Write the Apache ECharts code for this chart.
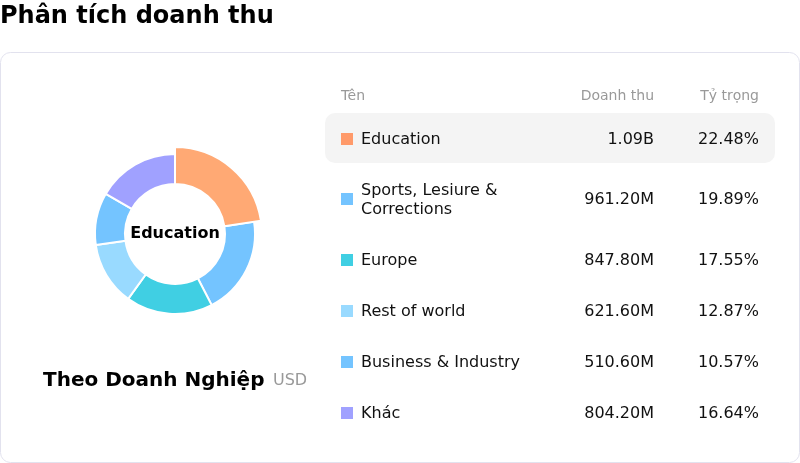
<!DOCTYPE html>
<html>
<head>
<meta charset="utf-8">
<title>Phân tích doanh thu</title>
<script src="https://cdn.jsdelivr.net/npm/echarts@6/dist/echarts.min.js"></script>
<style>
  html, body { margin: 0; padding: 0; background: #fff; }
  #main { width: 800px; height: 463px; }
</style>
</head>
<body>
<div id="main"></div>
<script>
    // dữ liệu (doanh thu tính bằng triệu USD)
    var names = ['Education', 'Sports, Lesiure & Corrections', 'Europe', 'Rest of world', 'Business & Industry', 'Khác'];
    var revenue = [1090, 961.2, 847.8, 621.6, 510.6, 804.2];
    var shares = [22.48, 19.89, 17.55, 12.87, 10.57, 16.64];
    var colors = ['#ff9a6a', '#74c4ff', '#40cfe3', '#99daff', '#74c4ff', '#a0a1ff'];
    var headers = ['Tên', 'Doanh thu', 'Tỷ trọng'];
    var selected = 0;

(function () {
    'use strict';
    var FONT = '"DejaVu Sans", sans-serif';
    var NAME_W = 205;
    var LINE_H = 19;

    function fmtMoney(v) {
        return v >= 1000 ? (v / 1000).toFixed(2) + 'B' : v.toFixed(2) + 'M';
    }

    function lineCount(text) {
        try {
            var t = new echarts.graphic.Text({
                style: { text: text, font: '16px ' + FONT, width: NAME_W, overflow: 'break', lineHeight: LINE_H }
            });
            var h = t.getBoundingRect().height;
            return Math.max(1, Math.round(h / LINE_H)) || 1;
        } catch (e) {
            return 1;
        }
    }

    function txt(x, y, s, size, color, align, weight, extra) {
        var style = {
            text: s,
            font: (weight || 'normal') + ' ' + size + 'px ' + FONT,
            fill: color,
            align: align || 'left',
            verticalAlign: 'middle'
        };
        if (extra) {
            for (var k in extra) style[k] = extra[k];
        }
        return { type: 'text', x: x, y: y, silent: true, style: style };
    }

    var elements = [];
    // thẻ nền
    elements.push({
        type: 'rect', z: -10, silent: true,
        shape: { x: 0.5, y: 52.5, width: 799, height: 410, r: 10 },
        style: { fill: '#fff', stroke: '#e2e2ee', lineWidth: 1 }
    });
    elements.push(txt(0, 17, 'Phân tích doanh thu', 24, '#000', 'left', 'bold'));
    elements.push(txt(43, 381, 'Theo Doanh Nghiệp', 20, '#000', 'left', 'bold'));
    elements.push(txt(273, 381, 'USD', 16, '#999', 'left'));

    // bảng bên phải
    var COL_NAME = 341, COL_VAL = 654, COL_PCT = 759;
    elements.push(txt(COL_NAME, 96, headers[0], 14, '#999', 'left'));
    elements.push(txt(COL_VAL, 96, headers[1], 14, '#999', 'right'));
    elements.push(txt(COL_PCT, 96, headers[2], 14, '#999', 'right'));

    var rowTop = 113;
    names.forEach(function (n, i) {
        var lines = lineCount(n);
        var h = 32 + LINE_H * lines;
        var cy = rowTop + h / 2;
        if (i === selected) {
            elements.push({
                type: 'rect', z: -5, silent: true,
                shape: { x: 325, y: rowTop, width: 450, height: 50, r: 10 },
                style: { fill: '#f4f4f4' }
            });
        }
        elements.push({
            type: 'rect', silent: true,
            shape: { x: COL_NAME, y: Math.round(cy) - 6, width: 12, height: 12 },
            style: { fill: colors[i] }
        });
        elements.push(txt(361, cy + 1, n, 16, '#111', 'left', 'normal',
            { width: NAME_W, overflow: 'break', lineHeight: LINE_H }));
        elements.push(txt(COL_VAL, cy + 1, fmtMoney(revenue[i]), 16, '#111', 'right'));
        elements.push(txt(COL_PCT, cy + 1, shares[i].toFixed(2) + '%', 16, '#111', 'right'));
        rowTop += h;
    });

    var chart = echarts.init(document.getElementById('main'));
    chart.setOption({
        animation: false,
        color: colors,
        graphic: { elements: elements },
        series: [{
            type: 'pie',
            center: [175, 234],
            radius: [50, 80],
            startAngle: 90,
            clockwise: true,
            avoidLabelOverlap: false,
            itemStyle: { borderColor: '#fff', borderWidth: 2 },
            label: { show: false, position: 'center' },
            labelLine: { show: false },
            emphasis: {
                scale: true,
                scaleSize: 7,
                label: {
                    show: true,
                    formatter: '{b}',
                    fontSize: 16,
                    fontWeight: 'bold',
                    fontFamily: FONT,
                    color: '#000'
                }
            },
            data: names.map(function (n, i) {
                return { name: n, value: revenue[i] };
            })
        }]
    });
    chart.dispatchAction({ type: 'highlight', seriesIndex: 0, dataIndex: selected });
})();
</script>
</body>
</html>
